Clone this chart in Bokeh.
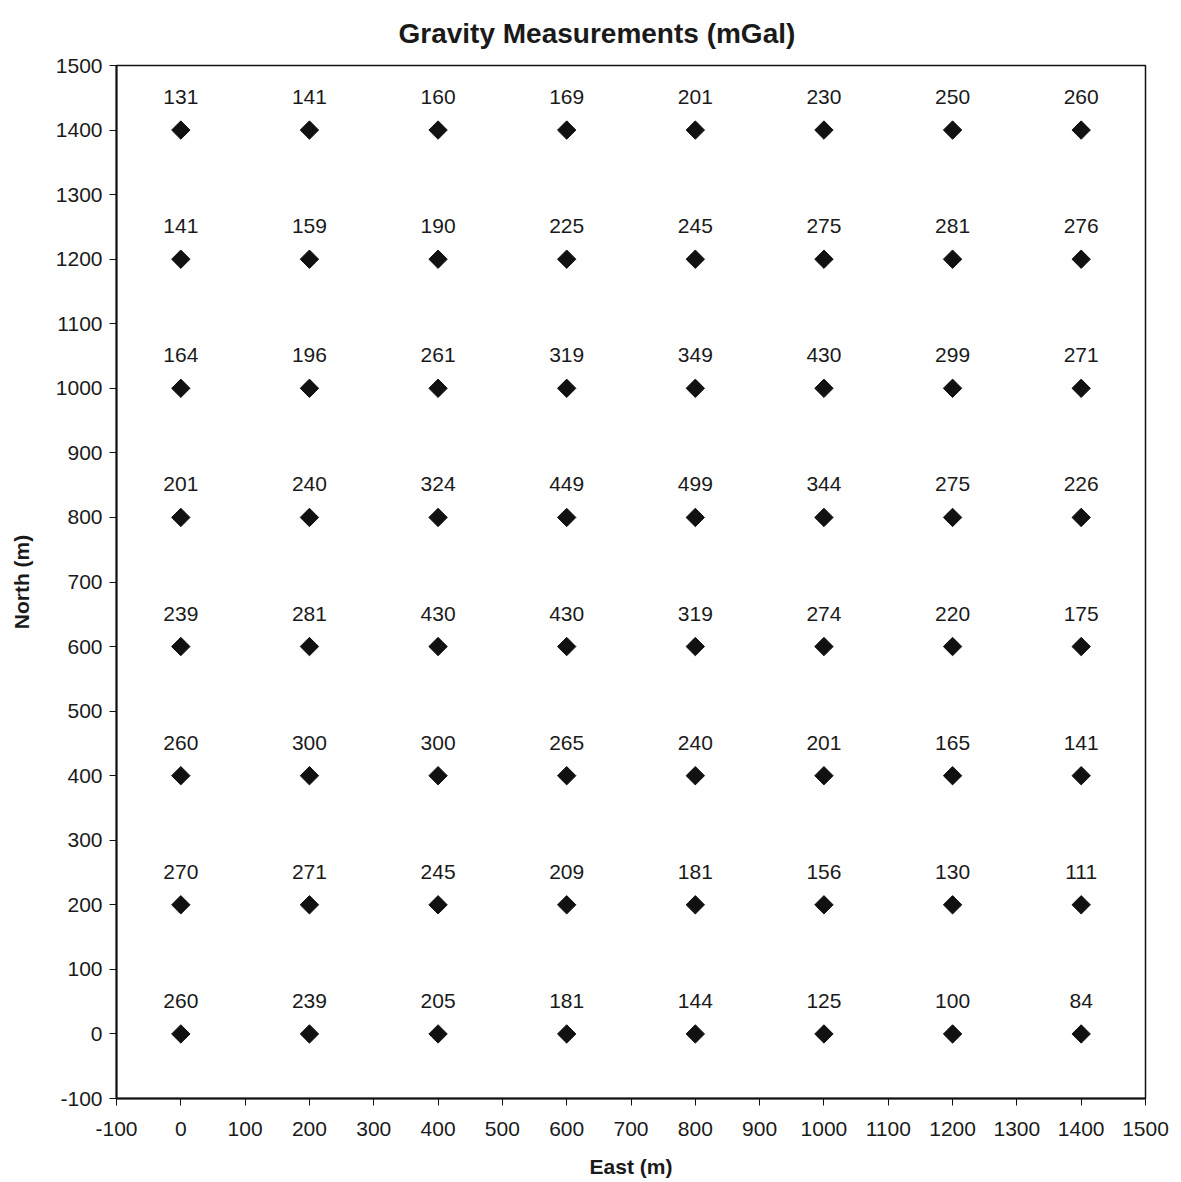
import math
from bokeh.plotting import figure
from bokeh.models import ColumnDataSource, Range1d, FixedTicker, Title
from bokeh.core.properties import value
from bokeh.embed import file_html
from bokeh.resources import INLINE

east = [0, 200, 400, 600, 800, 1000, 1200, 1400]
north = [1400, 1200, 1000, 800, 600, 400, 200, 0]
gravity = [
    [131, 141, 160, 169, 201, 230, 250, 260],
    [141, 159, 190, 225, 245, 275, 281, 276],
    [164, 196, 261, 319, 349, 430, 299, 271],
    [201, 240, 324, 449, 499, 344, 275, 226],
    [239, 281, 430, 430, 319, 274, 220, 175],
    [260, 300, 300, 265, 240, 201, 165, 141],
    [270, 271, 245, 209, 181, 156, 130, 111],
    [260, 239, 205, 181, 144, 125, 100, 84],
]
x_ticks = list(range(-100, 1501, 100))
y_ticks = list(range(-100, 1501, 100))

xs, ys, labels = [], [], []
for i, n in enumerate(north):
    for j, e in enumerate(east):
        xs.append(e)
        ys.append(n)
        labels.append(str(gravity[i][j]))
src = ColumnDataSource(dict(x=xs, y=ys, label=labels))

FONT = "Liberation Sans"
INK = "#1a1a1a"

p = figure(width=1173, height=1180, output_backend="svg", toolbar_location=None,
           x_range=Range1d(-100, 1500), y_range=Range1d(-100, 1500),
           min_border_left=116, min_border_right=28, min_border_top=65, min_border_bottom=80)

p.title = Title(text="Gravity Measurements (mGal)", align="left", offset=282,
                vertical_align="top",
                text_font=FONT, text_font_size="28px", text_font_style="bold",
                text_color=INK, standoff=30)

p.scatter("x", "y", source=src, marker="square", angle=math.pi / 4, size=13,
          fill_color="#111111", line_color="#111111")
p.text("x", "y", text="label", source=src, text_align="center", text_baseline="alphabetic",
       y_offset=-33, text_font=value(FONT), text_font_size="21px", text_color=INK)

p.xgrid.visible = False
p.ygrid.visible = False
p.outline_line_color = "#111111"
p.outline_line_width = 1.5
p.background_fill_color = "white"
p.border_fill_color = "white"

for ax, ticks in ((p.xaxis[0], x_ticks), (p.yaxis[0], y_ticks)):
    ax.ticker = FixedTicker(ticks=ticks)
    ax.major_label_overrides = {t: str(t) for t in ticks}
    ax.minor_tick_line_color = None
    ax.major_tick_out = 7
    ax.major_tick_in = 0
    ax.axis_line_color = "#111111"
    ax.axis_line_width = 2
    ax.major_tick_line_color = "#111111"
    ax.major_label_text_font = FONT
    ax.major_label_text_font_size = "21px"
    ax.major_label_text_color = INK
    ax.axis_label_text_font = FONT
    ax.axis_label_text_font_size = "21px"
    ax.axis_label_text_font_style = "bold"
    ax.axis_label_text_color = INK

p.xaxis.axis_label = "East (m)"
p.yaxis.axis_label = "North (m)"
p.xaxis.major_label_standoff = 16
p.xaxis.axis_label_standoff = 16
p.yaxis.major_label_standoff = 7
p.yaxis.axis_label_standoff = 20

open("out.html", "w").write(file_html(p, INLINE))
